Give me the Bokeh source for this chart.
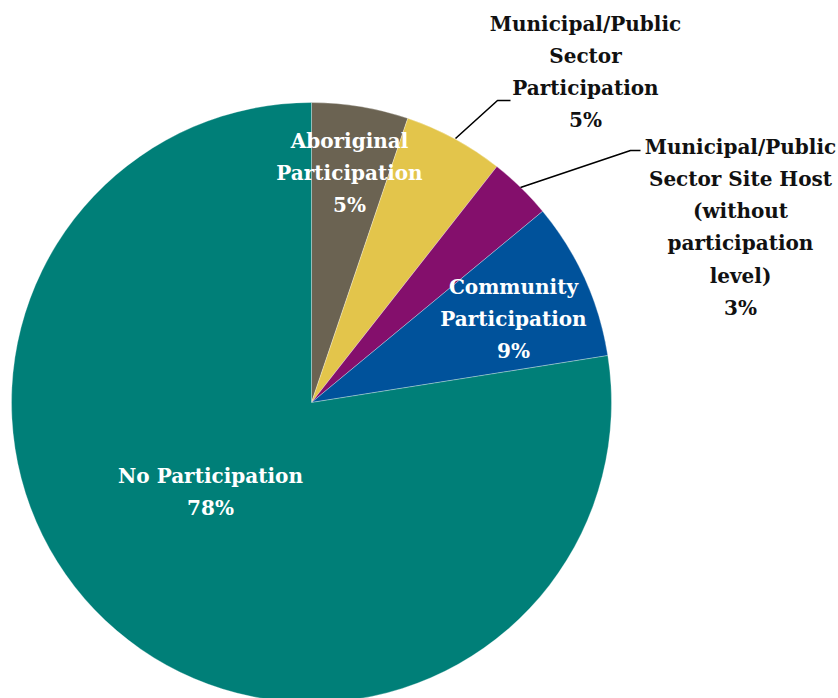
import math
from bokeh.plotting import figure
from bokeh.models import Range1d, ColumnDataSource
from bokeh.core.properties import value
from bokeh.embed import file_html
from bokeh.resources import INLINE

# ---- data ----
categories = ["Aboriginal Participation", "Municipal/Public Sector Participation",
              "Municipal/Public Sector Site Host (without participation level)",
              "Community Participation", "No Participation"]
shares = [5.2, 5.4, 3.4, 8.5, 77.5]
pct_labels = ["5%", "5%", "3%", "9%", "78%"]
colors = ["#6b6352", "#e3c54b", "#840f6c", "#00529b", "#007f78"]
label_lines = [
    ["Aboriginal", "Participation", "5%"],
    ["Municipal/Public", "Sector", "Participation", "5%"],
    ["Municipal/Public", "Sector Site Host", "(without", "participation", "level)", "3%"],
    ["Community", "Participation", "9%"],
    ["No Participation", "78%"],
]

# ---- layout (screen pixels, y downward) ----
W, H = 838, 698
CX, CY, R = 311, 402, 300
label_pos = [(349, 140), (585, 23), (740, 146), (513, 286), (210, 475)]
label_color = ["white", "#111111", "#111111", "white", "white"]
LINE_H = 32.3
leaders = [None,
           [(455, 138), (497, 100), (510, 100)],
           [(520, 187), (630, 150), (640, 150)],
           None, None]

p = figure(width=W, height=H, output_backend="svg", toolbar_location=None,
           x_range=Range1d(0, W), y_range=Range1d(0, H), min_border=0)
p.axis.visible = False
p.grid.visible = False
p.outline_line_color = None
p.background_fill_color = "white"
p.border_fill_color = "white"

total = sum(shares)
starts, ends = [], []
cum = 0.0
for s in shares:
    starts.append(math.pi / 2 - 2 * math.pi * cum / total)
    cum += s
    ends.append(math.pi / 2 - 2 * math.pi * cum / total)

src = ColumnDataSource(dict(start=starts, end=ends, color=colors, cat=categories))
p.wedge(x=CX, y=H - CY, radius=R, start_angle="start", end_angle="end",
        direction="clock", fill_color="color", line_color="#ffffff",
        line_width=0.6, line_alpha=0.5, source=src)

for i, lines in enumerate(label_lines):
    x0, y0 = label_pos[i]
    xs = [x0] * len(lines)
    ys = [H - (y0 + k * LINE_H) for k in range(len(lines))]
    p.text(x=xs, y=ys, text=lines, text_font=value("DejaVu Serif"),
           text_font_style="bold", text_font_size="20px",
           text_color=label_color[i], text_align="center",
           text_baseline="middle")
    if leaders[i]:
        p.line(x=[a for a, b in leaders[i]], y=[H - b for a, b in leaders[i]],
               line_color="black", line_width=1.6)

open("out.html", "w").write(file_html(p, INLINE))
